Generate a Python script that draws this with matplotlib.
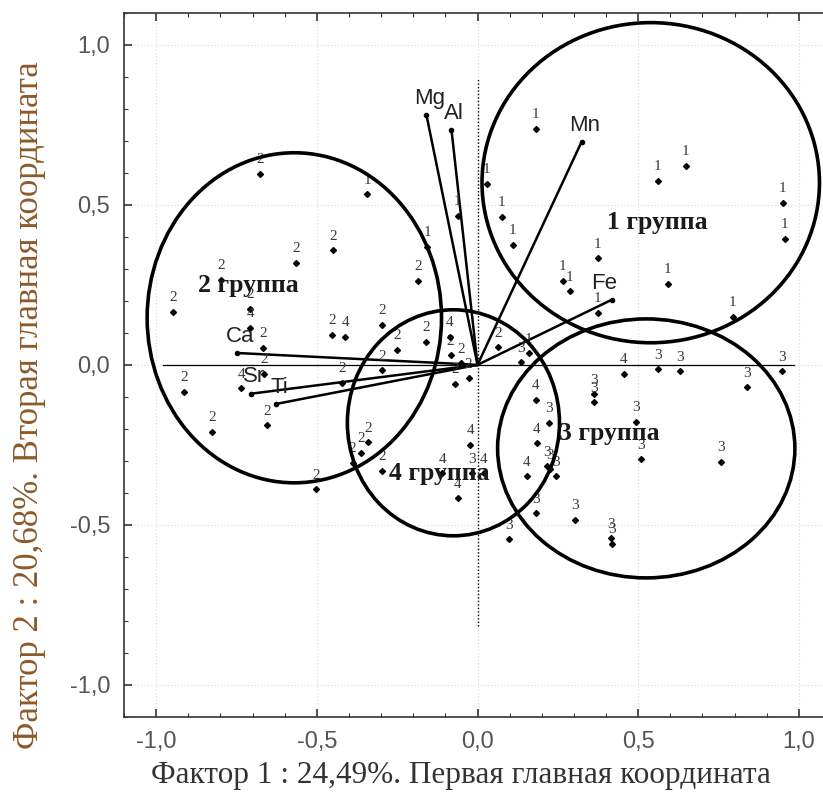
import numpy as np
import matplotlib
matplotlib.use("Agg")
import matplotlib.pyplot as plt
from matplotlib.patches import Ellipse
from matplotlib.ticker import MultipleLocator, FuncFormatter

# точки наблюдений (фактор 1, фактор 2) и номер группы-метки
pts_1_x = [0.181, 0.028, 0.075, 0.109, 0.374, 0.561, 0.648, 0.950, 0.956, 0.592,
           0.265, 0.287, 0.374, 0.794, -0.343, -0.062, -0.156, 0.159]
pts_1_y = [0.738, 0.566, 0.463, 0.375, 0.334, 0.575, 0.622, 0.506, 0.394, 0.253,
           0.263, 0.231, 0.163, 0.150, 0.534, 0.466, 0.369, 0.037]

pts_2_x = [-0.676, -0.449, -0.564, -0.184, -0.947, -0.798, -0.707, -0.667, -0.452,
           -0.296, -0.249, -0.159, -0.084, -0.421, -0.296, -0.664, -0.913, -0.826,
           -0.654, -0.502, -0.340, -0.361, -0.389, -0.296, -0.069, -0.028, 0.065, -0.05]
pts_2_y = [0.597, 0.359, 0.319, 0.263, 0.166, 0.266, 0.175, 0.053, 0.094,
           0.125, 0.047, 0.072, 0.031, -0.056, -0.016, -0.028, -0.084, -0.209,
           -0.188, -0.388, -0.241, -0.275, -0.306, -0.331, -0.059, -0.041, 0.056, 0.006]

pts_3_x = [0.134, 0.561, 0.629, 0.947, 0.838, 0.364, 0.364, 0.492, 0.508, 0.757,
           0.221, 0.215, 0.227, 0.243, 0.181, 0.097, 0.302, 0.414, 0.417, -0.016]
pts_3_y = [0.009, -0.013, -0.019, -0.019, -0.069, -0.091, -0.116, -0.178, -0.294, -0.303,
           -0.181, -0.316, -0.325, -0.347, -0.463, -0.544, -0.484, -0.541, -0.559, -0.338]

pts_4_x = [0.455, 0.181, 0.184, 0.153, -0.022, -0.109, -0.062, -0.411, -0.087, -0.735, -0.707, 0.019]
pts_4_y = [-0.028, -0.109, -0.244, -0.347, -0.250, -0.338, -0.416, 0.088, 0.088, -0.072, 0.116, -0.338]

# нагрузки переменных
var_names = ["Mg", "Al", "Mn", "Fe", "Ca", "Sr", "Ti"]
var_x = [-0.159, -0.081, 0.324, 0.417, -0.748, -0.704, -0.626]
var_y = [0.781, 0.734, 0.697, 0.203, 0.037, -0.090, -0.122]

# группы: центр, ширина, высота
grp_names = ["1 группа", "2 группа", "3 группа", "4 группа"]
grp_cx = [0.539, -0.570, 0.525, -0.075]
grp_cy = [0.569, 0.147, -0.261, -0.181]
grp_w = [1.05, 0.916, 0.925, 0.660]
grp_h = [1.00, 1.031, 0.809, 0.706]
grp_lx = [0.56, -0.714, 0.41, -0.118]
grp_ly = [0.444, 0.247, -0.216, -0.34]

fig = plt.figure(figsize=(8.23, 7.94), dpi=100)
ax = fig.add_axes([124 / 823, 77 / 794, 1 - 124 / 823, (717 - 12.7) / 794])

ax.set_xlim(-1.1, 1.075)
ax.set_ylim(-1.1, 1.1)

ax.xaxis.set_major_locator(MultipleLocator(0.5))
ax.yaxis.set_major_locator(MultipleLocator(0.5))
ax.xaxis.set_minor_locator(MultipleLocator(0.1))
ax.yaxis.set_minor_locator(MultipleLocator(0.1))
fmt = FuncFormatter(lambda v, p: f"{v:.1f}".replace(".", ",").replace("-0,0", "0,0"))
ax.xaxis.set_major_formatter(fmt)
ax.yaxis.set_major_formatter(fmt)
ax.tick_params(which="both", direction="in", top=True, right=False, color="#333333")
ax.tick_params(which="major", length=6, width=1.2, labelsize=17, labelcolor="#555555", pad=10)
ax.tick_params(which="minor", length=3, width=0.8)
for lab in ax.get_xticklabels() + ax.get_yticklabels():
    lab.set_family("Liberation Sans")
ax.spines["right"].set_visible(False)
for s in ["left", "bottom", "top"]:
    ax.spines[s].set_color("#333333")
    ax.spines[s].set_linewidth(1.2)

ax.grid(True, which="major", linestyle=(0, (1, 2)), color="#d8d8d8", linewidth=0.8)
ax.set_axisbelow(True)

# оси координат через начало
ax.plot([-0.978, 0.985], [0, 0], color="black", lw=0.9, zorder=2)
ax.plot([0, 0], [-0.816, 0.894], color="black", lw=1.0, linestyle=(0, (1, 1.5)), zorder=2)

# векторы переменных
for name, vx, vy in zip(var_names, var_x, var_y):
    ax.plot([0, vx], [0, vy], color="black", lw=1.8, zorder=3)
    ax.plot(vx, vy, "o", color="black", ms=3, zorder=3)
    dx = -5 if name == "Fe" else 2
    ax.annotate(name, (vx, vy), xytext=(dx, 12), textcoords="offset points",
                ha="center", va="center", fontsize=16, family="Liberation Sans",
                color="#222222", zorder=5)

# наблюдения
groups = [("1", pts_1_x, pts_1_y), ("2", pts_2_x, pts_2_y),
          ("3", pts_3_x, pts_3_y), ("4", pts_4_x, pts_4_y)]
for lab, xs, ys in groups:
    ax.plot(xs, ys, "D", color="black", ms=3, ls="none", zorder=4)
    for px, py in zip(xs, ys):
        ax.annotate(lab, (px, py), xytext=(0, 10), textcoords="offset points",
                    ha="center", va="center", fontsize=11, family="Liberation Serif",
                    color="#3a3a3a", zorder=4)

# эллипсы групп
for cx, cy, w, h in zip(grp_cx, grp_cy, grp_w, grp_h):
    ax.add_patch(Ellipse((cx, cy), w, h, fill=False, edgecolor="black", lw=2.6, zorder=6))

for name, lx, ly in zip(grp_names, grp_lx, grp_ly):
    ax.text(lx, ly, name, ha="center", va="center", fontsize=18.5, fontweight="bold",
            family="Liberation Serif", color="#1a1a1a", zorder=7)

fig.text(461 / 823, 1 - 775 / 794, "Фактор 1 : 24,49%. Первая главная координата",
         ha="center", va="center", fontsize=22.5, family="Liberation Serif", color="#333333")
fig.text(30 / 823, 1 - 405 / 794, "Фактор 2 : 20,68%. Вторая главная координата",
         ha="center", va="center", rotation=90, fontsize=25, family="Liberation Serif",
         color="#8c5a2b")

fig.savefig("out.png", dpi=100)
